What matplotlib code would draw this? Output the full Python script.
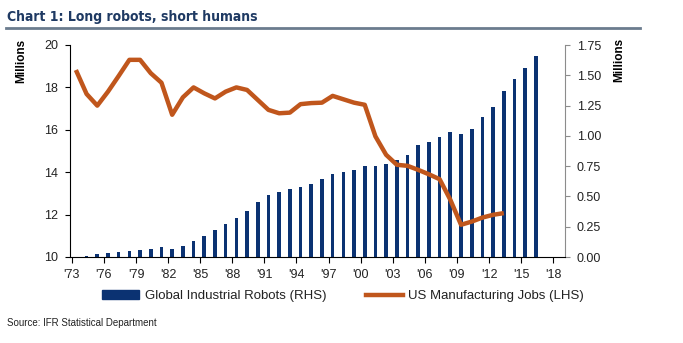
import matplotlib
matplotlib.use("Agg")
import matplotlib.pyplot as plt
from matplotlib import font_manager
from matplotlib.lines import Line2D
from matplotlib.patches import Patch
import numpy as np

# US manufacturing jobs, millions (LHS)
job_years = list(range(1973, 2014))
jobs = [18.82, 17.69, 17.14, 17.80, 18.54, 19.30, 19.30, 18.67, 18.22, 16.71,
        17.53, 18.00, 17.72, 17.48, 17.80, 18.00, 17.88, 17.41, 16.94, 16.78,
        16.81, 17.21, 17.26, 17.28, 17.60, 17.44, 17.28, 17.18, 15.69, 14.82,
        14.35, 14.30, 14.11, 13.90, 13.67, 12.70, 11.52, 11.67, 11.86, 11.99,
        12.07]

# Global industrial robots, millions (RHS)
robot_years = list(range(1974, 2017))
robots = [0.012, 0.022, 0.034, 0.044, 0.052, 0.060, 0.069, 0.079, 0.069, 0.093,
          0.129, 0.176, 0.223, 0.272, 0.325, 0.382, 0.457, 0.509, 0.539, 0.558,
          0.578, 0.606, 0.644, 0.682, 0.702, 0.721, 0.751, 0.754, 0.770, 0.800,
          0.845, 0.922, 0.950, 0.991, 1.035, 1.018, 1.057, 1.153, 1.236, 1.373,
          1.470, 1.561, 1.657]

tick_years = list(range(1973, 2019, 3))
tick_labels = ["'" + str(y)[2:] for y in tick_years]

navy = '#0B3272'
orange = '#C0561C'
title_col = '#1F3A63'

plt.rcParams['font.family'] = ['Liberation Sans', 'DejaVu Sans']

# pick a narrow face for the title if one is installed
names = {f.name for f in font_manager.fontManager.ttflist}
narrow = [f for f in font_manager.fontManager.ttflist
          if 'narrow' in f.fname.lower() or 'condensed' in f.fname.lower()]
if 'Liberation Sans Narrow' in names:
    title_font = dict(family='Liberation Sans Narrow', fontweight='bold', fontsize=13.5)
elif any('dejavusanscondensed-bold' in f.fname.lower() for f in narrow):
    title_font = dict(family='DejaVu Sans', fontstretch='condensed',
                      fontweight='bold', fontsize=10)
else:
    title_font = dict(family='Liberation Sans', fontweight='bold', fontsize=10)

fig = plt.figure(figsize=(6.83, 3.43), dpi=100)
ax1 = fig.add_axes([70 / 683, 1 - 257 / 343, 495 / 683, 212 / 343])
ax2 = ax1.twinx()

# categories sit a bit right of the year ticks, like an Excel category axis
off = 0.38
ax2.bar(np.array(robot_years) + off, robots, width=0.34, color=navy, zorder=2)
ax1.plot(np.array(job_years) + off, jobs, color=orange, lw=3.2,
         solid_joinstyle='round', solid_capstyle='butt', zorder=3)

ax1.set_zorder(ax2.get_zorder() + 1)
ax1.patch.set_visible(False)

ax1.set_xlim(1972.83, 2019.1)
ax1.set_ylim(10, 20)
ax1.set_yticks(range(10, 21, 2))
ax2.set_ylim(0, 1.75)
ax2.set_yticks(np.arange(0, 1.76, 0.25))
ax2.set_yticklabels([f'{v:.2f}' for v in np.arange(0, 1.76, 0.25)])
ax1.set_xticks(tick_years)
ax1.set_xticklabels(tick_labels)

for ax in (ax1, ax2):
    ax.spines['top'].set_visible(False)
ax1.spines['right'].set_visible(False)
ax2.spines['left'].set_visible(False)
ax2.spines['bottom'].set_visible(False)
ax2.spines['right'].set_color('#8C8C8C')
ax1.spines['left'].set_color('black')
ax1.spines['bottom'].set_color('black')

ax1.tick_params(axis='y', direction='out', length=3.5, width=0.8, pad=5,
                labelsize=9, colors='black', labelcolor='#222222')
ax1.tick_params(axis='x', direction='out', length=4, width=0.8, pad=4.5,
                labelsize=9, labelcolor='#222222')
ax2.tick_params(axis='y', direction='out', length=3.5, width=0.8, pad=5,
                labelsize=9, color='#8C8C8C', labelcolor='#222222')

fig.text(21 / 683, 1 - 61 / 343, 'Millions', rotation=90, ha='center',
         va='center', fontsize=8.5, fontweight='bold')
fig.text(619 / 683, 1 - 60 / 343, 'Millions', rotation=90, ha='center',
         va='center', fontsize=8.5, fontweight='bold')

# title and rule
fig.text(7 / 683, 1 - 17 / 343, 'Chart 1: Long robots, short humans',
         color=title_col, ha='left', va='center', **title_font)
fig.add_artist(Line2D([6 / 683, 640 / 683], [1 - 27.5 / 343] * 2,
                      color='#6B7C8E', lw=2))

handles = [Patch(color=navy), Line2D([], [], color=orange, lw=3.2)]
fig.legend(handles, ['Global Industrial Robots (RHS)', 'US Manufacturing Jobs (LHS)'],
           loc='center', bbox_to_anchor=(343 / 683, 1 - 296 / 343), ncol=2,
           frameon=False, fontsize=9.5, handlelength=2.8, handletextpad=0.4,
           columnspacing=3.0, labelcolor='#222222')

fig.text(7 / 683, 1 - 323 / 343, 'Source: IFR Statistical Department',
         fontsize=7, ha='left', va='center', color='#222222')

fig.savefig('out.png', dpi=100)
